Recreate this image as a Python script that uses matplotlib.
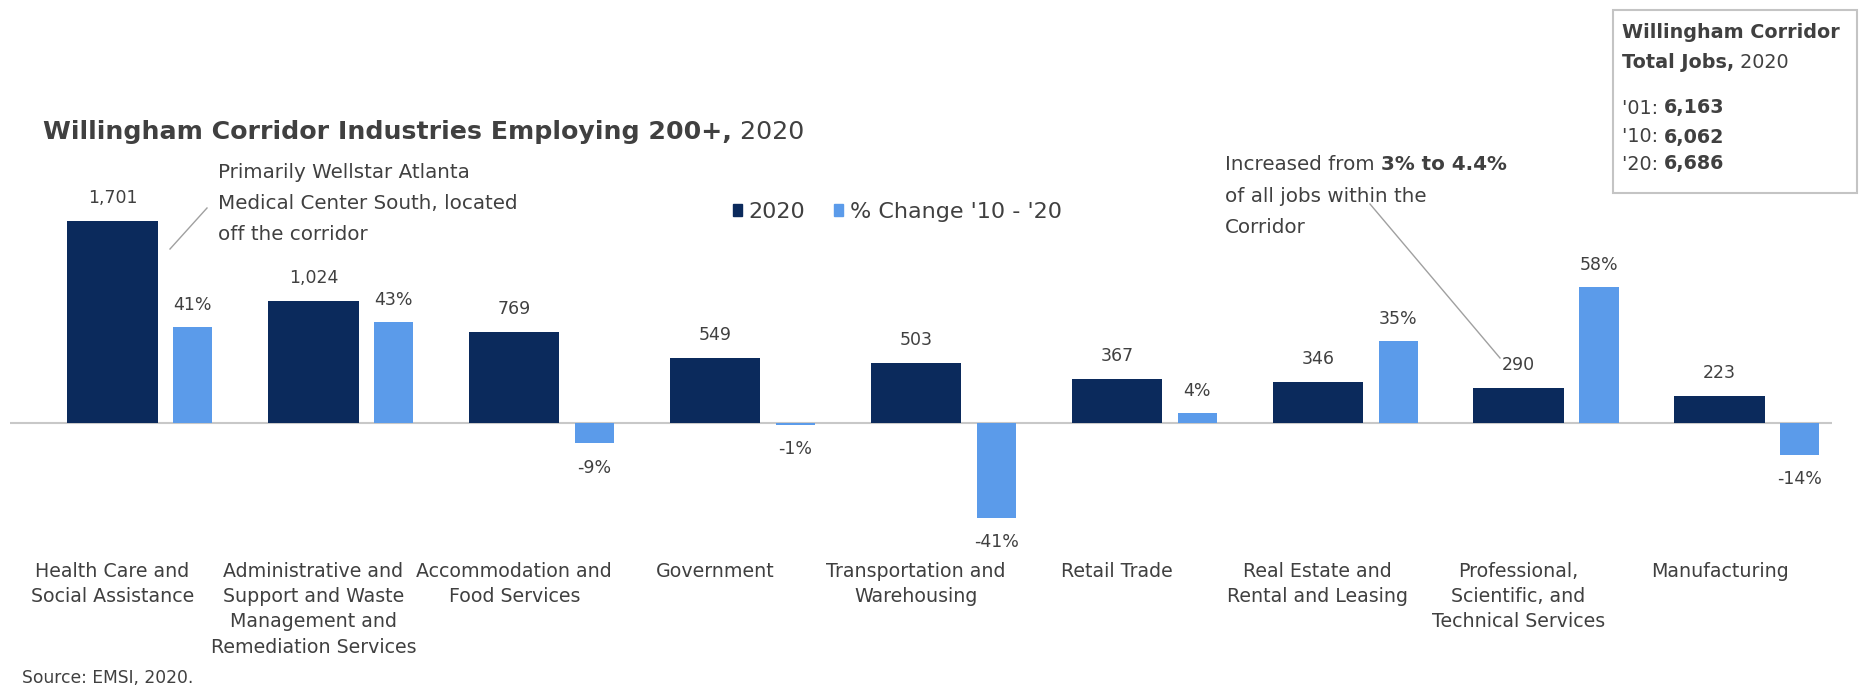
import numpy as np
import matplotlib.pyplot as plt
from matplotlib.patches import Patch, Rectangle
from matplotlib.lines import Line2D

# data
kategorie = ["Health Care and\nSocial Assistance",
             "Administrative and\nSupport and Waste\nManagement and\nRemediation Services",
             "Accommodation and\nFood Services",
             "Government",
             "Transportation and\nWarehousing",
             "Retail Trade",
             "Real Estate and\nRental and Leasing",
             "Professional,\nScientific, and\nTechnical Services",
             "Manufacturing"]
prace_2020 = [1701, 1024, 769, 549, 503, 367, 346, 290, 223]
zmiana_pct = [41, 43, -9, -1, -41, 4, 35, 58, -14]
razem_lata = ["'01: ", "'10: ", "'20: "]
razem_prace = [6163, 6062, 6686]

W, H = 1859, 691
granat = '#0b2a5c'
niebieski = '#5b9bea'
szary = '#404040'

plt.rcParams['font.family'] = 'DejaVu Sans'

fig = plt.figure(figsize=(W / 100, H / 100), dpi=100)


def fx(px):
    return px / W


def fy(py):
    return 1 - py / H


# axes placed in pixels: left 10, right 1832, zero line at 422.5
ax = fig.add_axes([fx(10), fy(540.8), (1832 - 10) / W, (540.8 - 185.9) / H])
ax2 = ax.twinx()

x = np.arange(len(kategorie))
ax.bar(x, prace_2020, width=0.45, color=granat, zorder=3)
ax2.bar(x + 0.40, zmiana_pct, width=0.195, color=niebieski, zorder=3)

ax.set_ylim(-1000, 2000)
ax2.set_ylim(-1000 / 19.7, 2000 / 19.7)
ax.set_xlim(-0.51, 8.56)
ax.axhline(0, color='#c8c8c8', lw=1.5, zorder=2)

for a in (ax, ax2):
    for s in a.spines.values():
        s.set_visible(False)
    a.set_yticks([])
ax.set_xticks(x)
ax.set_xticklabels(kategorie, fontsize=13.7, color=szary, linespacing=1.42)
ax.tick_params(axis='x', length=0, pad=15)

for xi, v in zip(x, prace_2020):
    ax.annotate(f"{v:,}", (xi, v), xytext=(0, 16.5), textcoords='offset points',
                ha='center', va='center', fontsize=12.5, color=szary)
for xi, v in zip(x, zmiana_pct):
    off = 16 if v >= 0 else -17.5
    ax2.annotate(f"{v}%", (xi + 0.40, v), xytext=(0, off), textcoords='offset points',
                 ha='center', va='center', fontsize=12.5, color=szary)

fig.canvas.draw()
renderer = fig.canvas.get_renderer()


def napisy(px, py, czesci, size):
    xf = fx(px)
    for s, waga in czesci:
        t = fig.text(xf, fy(py), s, fontsize=size, fontweight=waga, color=szary,
                     ha='left', va='center')
        bb = t.get_window_extent(renderer)
        xf = bb.x1 / W


# title
napisy(43, 132, [("Willingham Corridor Industries Employing 200+,", 'bold'), (" 2020", 'normal')], 18.2)

# callout 1
for py, s in zip([173, 204, 235], ["Primarily Wellstar Atlanta", "Medical Center South, located", "off the corridor"]):
    napisy(218, py, [(s, 'normal')], 14.3)
fig.add_artist(Line2D([fx(170), fx(207)], [fy(249), fy(208)], color='#a0a0a0', lw=1))

# callout 2
napisy(1225, 165, [("Increased from ", 'normal'), ("3% to 4.4%", 'bold')], 14.3)
napisy(1225, 196, [("of all jobs within the", 'normal')], 14.3)
napisy(1225, 227, [("Corridor", 'normal')], 14.3)
fig.add_artist(Line2D([fx(1370), fx(1500)], [fy(204), fy(358)], color='#a0a0a0', lw=1))

# legend
uchwyty = [Patch(color=granat, label='2020'), Patch(color=niebieski, label="% Change '10 - '20")]
leg = ax.legend(handles=uchwyty, loc='center left', bbox_to_anchor=(fx(733), fy(212)),
                bbox_transform=fig.transFigure, ncol=2, frameon=False, fontsize=16,
                handlelength=0.4, handleheight=0.4, handletextpad=0.3, columnspacing=1.3,
                borderpad=0, borderaxespad=0)
for t in leg.get_texts():
    t.set_color(szary)

# total jobs box
fig.add_artist(Rectangle((fx(1613), fy(193)), (1857 - 1613) / W, (193 - 10) / H,
                         transform=fig.transFigure, facecolor='white', edgecolor='#c4c4c4', lw=1.5))
napisy(1622, 33, [("Willingham Corridor", 'bold')], 13.8)
napisy(1622, 63, [("Total Jobs,", 'bold'), (" 2020", 'normal')], 13.8)
for py, rok, n in zip([108, 137, 164], razem_lata, razem_prace):
    napisy(1622, py, [(rok, 'normal'), (f"{n:,}", 'bold')], 13.8)

fig.text(fx(22), fy(678), "Source: EMSI, 2020.", fontsize=12.3, color=szary, va='center')

fig.savefig('out.png', dpi=100)
